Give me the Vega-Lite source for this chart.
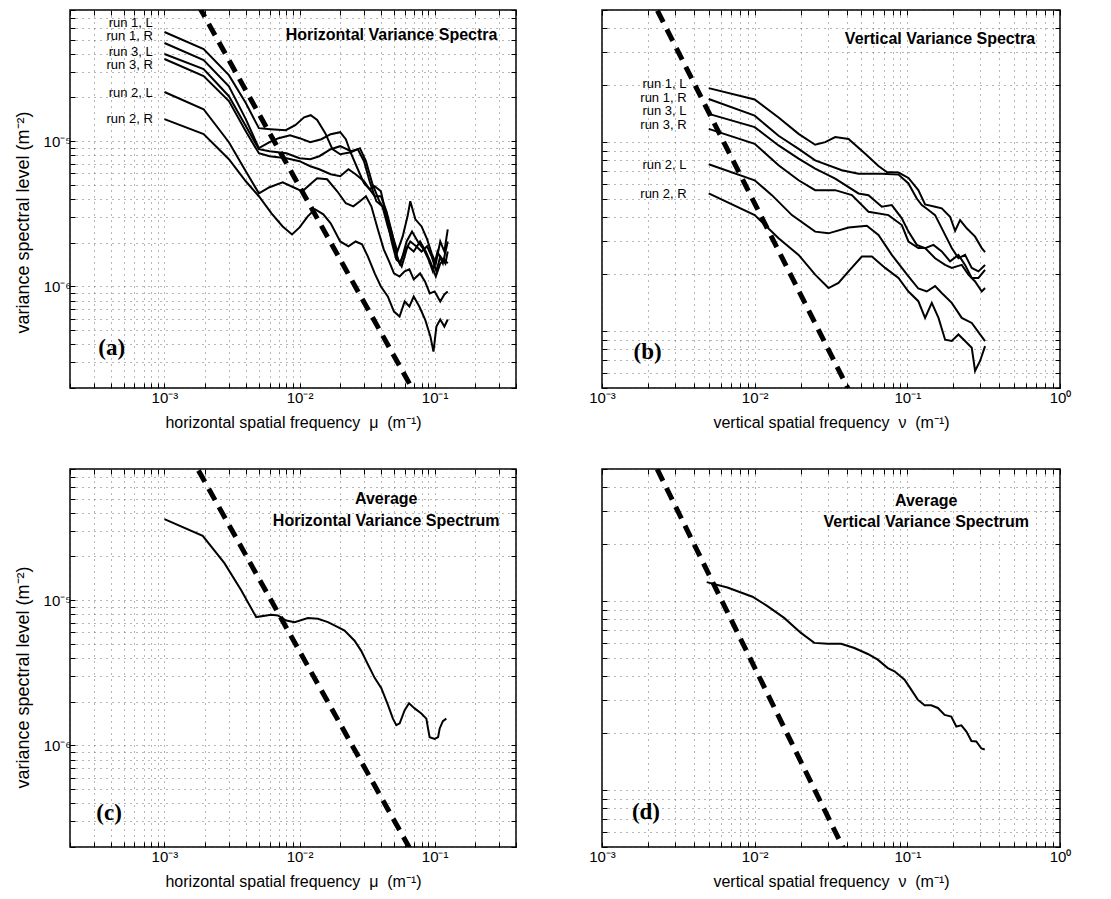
{
  "$schema": "https://vega.github.io/schema/vega-lite/v6.json",
  "background": "white",
  "padding": {"left": 13, "top": 2, "right": 5, "bottom": 5},
  "config": {
    "view": {"stroke": "black", "strokeWidth": 1.5},
    "axis": {
      "labelFont": "Liberation Sans", "titleFont": "Liberation Sans",
      "labelFontSize": 15, "titleFontSize": 16, "titleFontWeight": "normal",
      "labelColor": "black", "titleColor": "black", "domain": false,
      "tickColor": "black", "tickSize": -5, "tickWidth": 1,
      "gridColor": "#555", "gridDash": [1, 5], "gridWidth": 1, "gridOpacity": 0.85,
      "labelOverlap": false, "labelFlush": false, "labelBound": false
    }
  },
  "datasets": {
    "a": [
      {"run":"1L","f":0.001,"s":5.645e-5},{"run":"1L","f":0.00195,"s":4.31e-5},{"run":"1L","f":0.003,"s":2.85e-5},{"run":"1L","f":0.004,"s":1.83e-5},{"run":"1L","f":0.005,"s":1.23e-5},{"run":"1L","f":0.0061,"s":1.21e-5},{"run":"1L","f":0.0079,"s":1.19e-5},{"run":"1L","f":0.0093,"s":1.29e-5},{"run":"1L","f":0.0108,"s":1.46e-5},{"run":"1L","f":0.0121,"s":1.51e-5},{"run":"1L","f":0.0135,"s":1.40e-5},{"run":"1L","f":0.0155,"s":1.136e-5},{"run":"1L","f":0.0175,"s":8.81e-6},{"run":"1L","f":0.020,"s":8.13e-6},{"run":"1L","f":0.024,"s":8.40e-6},{"run":"1L","f":0.028,"s":8.95e-6},{"run":"1L","f":0.031,"s":7.28e-6},{"run":"1L","f":0.0345,"s":5.13e-6},{"run":"1L","f":0.039,"s":3.86e-6},{"run":"1L","f":0.044,"s":3.19e-6},{"run":"1L","f":0.049,"s":2.21e-6},{"run":"1L","f":0.053,"s":1.74e-6},{"run":"1L","f":0.058,"s":2.21e-6},{"run":"1L","f":0.063,"s":3.04e-6},{"run":"1L","f":0.066,"s":3.86e-6},{"run":"1L","f":0.072,"s":2.90e-6},{"run":"1L","f":0.08,"s":2.59e-6},{"run":"1L","f":0.088,"s":2.11e-6},{"run":"1L","f":0.095,"s":1.69e-6},{"run":"1L","f":0.102,"s":1.44e-6},{"run":"1L","f":0.11,"s":2.04e-6},{"run":"1L","f":0.118,"s":1.74e-6},{"run":"1L","f":0.125,"s":2.47e-6},
      {"run":"1R","f":0.001,"s":4.74e-5},{"run":"1R","f":0.00195,"s":3.62e-5},{"run":"1R","f":0.003,"s":2.39e-5},{"run":"1R","f":0.004,"s":1.42e-5},{"run":"1R","f":0.005,"s":8.95e-6},{"run":"1R","f":0.006,"s":9.84e-6},{"run":"1R","f":0.007,"s":1.049e-5},{"run":"1R","f":0.0085,"s":1.10e-5},{"run":"1R","f":0.010,"s":1.049e-5},{"run":"1R","f":0.012,"s":9.84e-6},{"run":"1R","f":0.0145,"s":1.032e-5},{"run":"1R","f":0.017,"s":1.118e-5},{"run":"1R","f":0.020,"s":1.154e-5},{"run":"1R","f":0.022,"s":1.032e-5},{"run":"1R","f":0.024,"s":8.26e-6},{"run":"1R","f":0.027,"s":6.41e-6},{"run":"1R","f":0.030,"s":5.13e-6},{"run":"1R","f":0.033,"s":4.67e-6},{"run":"1R","f":0.036,"s":4.89e-6},{"run":"1R","f":0.040,"s":4.52e-6},{"run":"1R","f":0.044,"s":3.04e-6},{"run":"1R","f":0.048,"s":2.04e-6},{"run":"1R","f":0.052,"s":1.535e-6},{"run":"1R","f":0.056,"s":1.44e-6},{"run":"1R","f":0.062,"s":2.04e-6},{"run":"1R","f":0.068,"s":2.39e-6},{"run":"1R","f":0.075,"s":2.04e-6},{"run":"1R","f":0.083,"s":1.80e-6},{"run":"1R","f":0.09,"s":1.535e-6},{"run":"1R","f":0.097,"s":1.27e-6},{"run":"1R","f":0.105,"s":1.74e-6},{"run":"1R","f":0.115,"s":1.44e-6},{"run":"1R","f":0.125,"s":2.04e-6},
      {"run":"3L","f":0.001,"s":3.98e-5},{"run":"3L","f":0.00195,"s":3.14e-5},{"run":"3L","f":0.003,"s":2.04e-5},{"run":"3L","f":0.004,"s":1.27e-5},{"run":"3L","f":0.005,"s":8.81e-6},{"run":"3L","f":0.006,"s":8.53e-6},{"run":"3L","f":0.008,"s":8.26e-6},{"run":"3L","f":0.010,"s":7.63e-6},{"run":"3L","f":0.012,"s":7.51e-6},{"run":"3L","f":0.014,"s":7.88e-6},{"run":"3L","f":0.017,"s":8.81e-6},{"run":"3L","f":0.020,"s":9.24e-6},{"run":"3L","f":0.024,"s":8.53e-6},{"run":"3L","f":0.027,"s":8.81e-6},{"run":"3L","f":0.030,"s":7.28e-6},{"run":"3L","f":0.033,"s":5.30e-6},{"run":"3L","f":0.037,"s":3.86e-6},{"run":"3L","f":0.041,"s":3.56e-6},{"run":"3L","f":0.045,"s":2.59e-6},{"run":"3L","f":0.05,"s":1.89e-6},{"run":"3L","f":0.055,"s":1.44e-6},{"run":"3L","f":0.06,"s":1.74e-6},{"run":"3L","f":0.066,"s":2.04e-6},{"run":"3L","f":0.073,"s":1.89e-6},{"run":"3L","f":0.08,"s":1.74e-6},{"run":"3L","f":0.088,"s":1.89e-6},{"run":"3L","f":0.095,"s":1.61e-6},{"run":"3L","f":0.103,"s":1.27e-6},{"run":"3L","f":0.11,"s":1.61e-6},{"run":"3L","f":0.12,"s":1.44e-6},{"run":"3L","f":0.125,"s":1.74e-6},
      {"run":"3R","f":0.001,"s":3.68e-5},{"run":"3R","f":0.00195,"s":2.81e-5},{"run":"3R","f":0.003,"s":1.89e-5},{"run":"3R","f":0.004,"s":1.17e-5},{"run":"3R","f":0.005,"s":8.26e-6},{"run":"3R","f":0.006,"s":7.88e-6},{"run":"3R","f":0.008,"s":7.63e-6},{"run":"3R","f":0.010,"s":7.28e-6},{"run":"3R","f":0.012,"s":6.72e-6},{"run":"3R","f":0.014,"s":6.41e-6},{"run":"3R","f":0.017,"s":5.92e-6},{"run":"3R","f":0.020,"s":5.74e-6},{"run":"3R","f":0.023,"s":6.41e-6},{"run":"3R","f":0.026,"s":5.92e-6},{"run":"3R","f":0.030,"s":5.30e-6},{"run":"3R","f":0.033,"s":4.67e-6},{"run":"3R","f":0.036,"s":4.18e-6},{"run":"3R","f":0.040,"s":4.18e-6},{"run":"3R","f":0.044,"s":3.29e-6},{"run":"3R","f":0.049,"s":2.21e-6},{"run":"3R","f":0.053,"s":1.535e-6},{"run":"3R","f":0.057,"s":1.37e-6},{"run":"3R","f":0.063,"s":1.89e-6},{"run":"3R","f":0.07,"s":1.74e-6},{"run":"3R","f":0.078,"s":2.04e-6},{"run":"3R","f":0.086,"s":1.74e-6},{"run":"3R","f":0.094,"s":1.44e-6},{"run":"3R","f":0.102,"s":1.17e-6},{"run":"3R","f":0.11,"s":1.44e-6},{"run":"3R","f":0.118,"s":1.535e-6},{"run":"3R","f":0.125,"s":1.44e-6},
      {"run":"2L","f":0.001,"s":2.18e-5},{"run":"2L","f":0.00195,"s":1.66e-5},{"run":"2L","f":0.003,"s":9.84e-6},{"run":"2L","f":0.004,"s":6.21e-6},{"run":"2L","f":0.005,"s":4.38e-6},{"run":"2L","f":0.006,"s":4.82e-6},{"run":"2L","f":0.0075,"s":5.21e-6},{"run":"2L","f":0.009,"s":4.82e-6},{"run":"2L","f":0.0105,"s":4.52e-6},{"run":"2L","f":0.012,"s":5.05e-6},{"run":"2L","f":0.0135,"s":5.56e-6},{"run":"2L","f":0.016,"s":5.47e-6},{"run":"2L","f":0.019,"s":4.52e-6},{"run":"2L","f":0.022,"s":3.74e-6},{"run":"2L","f":0.025,"s":3.56e-6},{"run":"2L","f":0.028,"s":3.86e-6},{"run":"2L","f":0.031,"s":4.18e-6},{"run":"2L","f":0.034,"s":3.56e-6},{"run":"2L","f":0.038,"s":2.47e-6},{"run":"2L","f":0.042,"s":1.80e-6},{"run":"2L","f":0.046,"s":1.49e-6},{"run":"2L","f":0.05,"s":1.23e-6},{"run":"2L","f":0.055,"s":1.17e-6},{"run":"2L","f":0.06,"s":1.27e-6},{"run":"2L","f":0.065,"s":1.31e-6},{"run":"2L","f":0.07,"s":1.12e-6},{"run":"2L","f":0.078,"s":1.23e-6},{"run":"2L","f":0.085,"s":1.08e-6},{"run":"2L","f":0.092,"s":8.95e-7},{"run":"2L","f":0.1,"s":9.24e-7},{"run":"2L","f":0.11,"s":7.88e-7},{"run":"2L","f":0.118,"s":8.81e-7},{"run":"2L","f":0.125,"s":9.24e-7},
      {"run":"2R","f":0.001,"s":1.42e-5},{"run":"2R","f":0.00195,"s":1.118e-5},{"run":"2R","f":0.003,"s":7.51e-6},{"run":"2R","f":0.004,"s":5.30e-6},{"run":"2R","f":0.005,"s":4.18e-6},{"run":"2R","f":0.0062,"s":3.19e-6},{"run":"2R","f":0.0075,"s":2.59e-6},{"run":"2R","f":0.0088,"s":2.28e-6},{"run":"2R","f":0.010,"s":2.55e-6},{"run":"2R","f":0.0115,"s":3.04e-6},{"run":"2R","f":0.013,"s":3.40e-6},{"run":"2R","f":0.015,"s":3.14e-6},{"run":"2R","f":0.017,"s":2.72e-6},{"run":"2R","f":0.020,"s":2.04e-6},{"run":"2R","f":0.023,"s":1.89e-6},{"run":"2R","f":0.026,"s":2.04e-6},{"run":"2R","f":0.029,"s":1.95e-6},{"run":"2R","f":0.032,"s":1.61e-6},{"run":"2R","f":0.036,"s":1.23e-6},{"run":"2R","f":0.04,"s":1.0e-6},{"run":"2R","f":0.045,"s":8.53e-7},{"run":"2R","f":0.05,"s":6.72e-7},{"run":"2R","f":0.055,"s":6.21e-7},{"run":"2R","f":0.06,"s":7.88e-7},{"run":"2R","f":0.065,"s":7.28e-7},{"run":"2R","f":0.07,"s":8.53e-7},{"run":"2R","f":0.077,"s":7.28e-7},{"run":"2R","f":0.085,"s":5.92e-7},{"run":"2R","f":0.093,"s":4.52e-7},{"run":"2R","f":0.098,"s":3.56e-7},{"run":"2R","f":0.103,"s":5.30e-7},{"run":"2R","f":0.11,"s":5.92e-7},{"run":"2R","f":0.118,"s":5.30e-7},{"run":"2R","f":0.125,"s":5.92e-7}
    ],
    "b": [
      {"run":"1L","f":0.005,"s":1.93e-5},{"run":"1L","f":0.01,"s":1.68e-5},{"run":"1L","f":0.01434,"s":1.35e-5},{"run":"1L","f":0.0194,"s":1.106e-5},{"run":"1L","f":0.0249,"s":9.68e-6},{"run":"1L","f":0.029,"s":1.0e-5},{"run":"1L","f":0.0337,"s":1.063e-5},{"run":"1L","f":0.0412,"s":1.04e-5},{"run":"1L","f":0.053,"s":8.68e-6},{"run":"1L","f":0.0647,"s":7.47e-6},{"run":"1L","f":0.0734,"s":6.95e-6},{"run":"1L","f":0.0875,"s":6.9e-6},{"run":"1L","f":0.1017,"s":6.46e-6},{"run":"1L","f":0.118,"s":5.57e-6},{"run":"1L","f":0.1307,"s":4.68e-6},{"run":"1L","f":0.152,"s":4.55e-6},{"run":"1L","f":0.168,"s":4.46e-6},{"run":"1L","f":0.1906,"s":4.03e-6},{"run":"1L","f":0.2055,"s":3.39e-6},{"run":"1L","f":0.2216,"s":3.87e-6},{"run":"1L","f":0.2449,"s":3.5e-6},{"run":"1L","f":0.2778,"s":3.16e-6},{"run":"1L","f":0.3072,"s":2.75e-6},{"run":"1L","f":0.323,"s":2.62e-6},
      {"run":"1R","f":0.005,"s":1.69e-5},{"run":"1R","f":0.01,"s":1.38e-5},{"run":"1R","f":0.01434,"s":1.08e-5},{"run":"1R","f":0.0194,"s":9.2e-6},{"run":"1R","f":0.0249,"s":8.0e-6},{"run":"1R","f":0.03724,"s":7.1e-6},{"run":"1R","f":0.04787,"s":6.81e-6},{"run":"1R","f":0.06806,"s":6.81e-6},{"run":"1R","f":0.0875,"s":6.73e-6},{"run":"1R","f":0.1017,"s":6.04e-6},{"run":"1R","f":0.1153,"s":5.03e-6},{"run":"1R","f":0.1244,"s":4.64e-6},{"run":"1R","f":0.1375,"s":4.37e-6},{"run":"1R","f":0.152,"s":4.11e-6},{"run":"1R","f":0.1768,"s":3.23e-6},{"run":"1R","f":0.1954,"s":2.75e-6},{"run":"1R","f":0.2161,"s":2.43e-6},{"run":"1R","f":0.2389,"s":2.53e-6},{"run":"1R","f":0.2642,"s":2.16e-6},{"run":"1R","f":0.2921,"s":2.07e-6},{"run":"1R","f":0.323,"s":2.24e-6},
      {"run":"3L","f":0.005,"s":1.41e-5},{"run":"3L","f":0.01,"s":1.2e-5},{"run":"3L","f":0.01434,"s":9.6e-6},{"run":"3L","f":0.0194,"s":8.17e-6},{"run":"3L","f":0.0249,"s":7.24e-6},{"run":"3L","f":0.0337,"s":6.41e-6},{"run":"3L","f":0.04787,"s":5.35e-6},{"run":"3L","f":0.05566,"s":5.24e-6},{"run":"3L","f":0.06806,"s":4.55e-6},{"run":"3L","f":0.0791,"s":4.64e-6},{"run":"3L","f":0.092,"s":3.95e-6},{"run":"3L","f":0.1017,"s":3.36e-6},{"run":"3L","f":0.1153,"s":2.86e-6},{"run":"3L","f":0.1307,"s":2.75e-6},{"run":"3L","f":0.1483,"s":2.86e-6},{"run":"3L","f":0.168,"s":2.64e-6},{"run":"3L","f":0.1906,"s":2.34e-6},{"run":"3L","f":0.2161,"s":2.53e-6},{"run":"3L","f":0.2389,"s":2.24e-6},{"run":"3L","f":0.2642,"s":1.91e-6},{"run":"3L","f":0.2921,"s":1.91e-6},{"run":"3L","f":0.323,"s":2.11e-6},
      {"run":"3R","f":0.005,"s":1.175e-5},{"run":"3R","f":0.01,"s":9.8e-6},{"run":"3R","f":0.01434,"s":7.54e-6},{"run":"3R","f":0.0194,"s":6.28e-6},{"run":"3R","f":0.0249,"s":5.57e-6},{"run":"3R","f":0.0337,"s":5.57e-6},{"run":"3R","f":0.04331,"s":5.24e-6},{"run":"3R","f":0.05566,"s":4.28e-6},{"run":"3R","f":0.07525,"s":4.11e-6},{"run":"3R","f":0.092,"s":3.64e-6},{"run":"3R","f":0.1017,"s":2.98e-6},{"run":"3R","f":0.118,"s":2.75e-6},{"run":"3R","f":0.1307,"s":2.75e-6},{"run":"3R","f":0.152,"s":2.43e-6},{"run":"3R","f":0.1768,"s":2.24e-6},{"run":"3R","f":0.1954,"s":2.16e-6},{"run":"3R","f":0.2272,"s":2.24e-6},{"run":"3R","f":0.2512,"s":1.99e-6},{"run":"3R","f":0.2778,"s":1.83e-6},{"run":"3R","f":0.3072,"s":1.62e-6},{"run":"3R","f":0.323,"s":1.69e-6},
      {"run":"2L","f":0.005,"s":7.63e-6},{"run":"2L","f":0.01,"s":6.28e-6},{"run":"2L","f":0.01297,"s":5.24e-6},{"run":"2L","f":0.01753,"s":4.11e-6},{"run":"2L","f":0.0249,"s":3.36e-6},{"run":"2L","f":0.03046,"s":3.29e-6},{"run":"2L","f":0.0412,"s":3.53e-6},{"run":"2L","f":0.05428,"s":3.61e-6},{"run":"2L","f":0.0647,"s":3.23e-6},{"run":"2L","f":0.0791,"s":2.53e-6},{"run":"2L","f":0.1017,"s":1.95e-6},{"run":"2L","f":0.118,"s":1.68e-6},{"run":"2L","f":0.134,"s":1.62e-6},{"run":"2L","f":0.152,"s":1.73e-6},{"run":"2L","f":0.168,"s":1.59e-6},{"run":"2L","f":0.1954,"s":1.41e-6},{"run":"2L","f":0.2272,"s":1.175e-6},{"run":"2L","f":0.2642,"s":1.105e-6},{"run":"2L","f":0.2995,"s":9.6e-7},{"run":"2L","f":0.323,"s":8.86e-7},
      {"run":"2R","f":0.005,"s":5.35e-6},{"run":"2R","f":0.01,"s":4.11e-6},{"run":"2R","f":0.01434,"s":3.1e-6},{"run":"2R","f":0.0194,"s":2.53e-6},{"run":"2R","f":0.0249,"s":1.99e-6},{"run":"2R","f":0.03046,"s":1.69e-6},{"run":"2R","f":0.0354,"s":1.8e-6},{"run":"2R","f":0.0412,"s":2.07e-6},{"run":"2R","f":0.05035,"s":2.48e-6},{"run":"2R","f":0.05855,"s":2.48e-6},{"run":"2R","f":0.07157,"s":2.16e-6},{"run":"2R","f":0.0875,"s":1.91e-6},{"run":"2R","f":0.1017,"s":1.62e-6},{"run":"2R","f":0.118,"s":1.44e-6},{"run":"2R","f":0.1307,"s":1.175e-6},{"run":"2R","f":0.1446,"s":1.41e-6},{"run":"2R","f":0.16,"s":1.175e-6},{"run":"2R","f":0.1768,"s":9.0e-7},{"run":"2R","f":0.1954,"s":8.86e-7},{"run":"2R","f":0.2161,"s":9.6e-7},{"run":"2R","f":0.2389,"s":8.86e-7},{"run":"2R","f":0.2642,"s":8.17e-7},{"run":"2R","f":0.2778,"s":6.16e-7},{"run":"2R","f":0.2995,"s":6.95e-7},{"run":"2R","f":0.323,"s":8.33e-7}
    ],
    "c": [
      {"f":0.001,"s":3.61e-5},{"f":0.00192,"s":2.77e-5},{"f":0.00278,"s":1.80e-5},{"f":0.0037,"s":1.17e-5},{"f":0.00478,"s":7.65e-6},{"f":0.00616,"s":7.94e-6},{"f":0.00691,"s":7.86e-6},{"f":0.00797,"s":7.25e-6},{"f":0.00919,"s":7.06e-6},{"f":0.01153,"s":7.53e-6},{"f":0.01368,"s":7.45e-6},{"f":0.01622,"s":7.06e-6},{"f":0.01923,"s":6.52e-6},{"f":0.02154,"s":6.18e-6},{"f":0.02553,"s":5.26e-6},{"f":0.02861,"s":4.48e-6},{"f":0.03208,"s":3.61e-6},{"f":0.03596,"s":2.92e-6},{"f":0.0403,"s":2.48e-6},{"f":0.0451,"s":1.90e-6},{"f":0.0491,"s":1.53e-6},{"f":0.052,"s":1.38e-6},{"f":0.0551,"s":1.42e-6},{"f":0.06,"s":1.75e-6},{"f":0.0646,"s":1.95e-6},{"f":0.0711,"s":1.80e-6},{"f":0.0797,"s":1.66e-6},{"f":0.0868,"s":1.53e-6},{"f":0.0893,"s":1.31e-6},{"f":0.0918,"s":1.14e-6},{"f":0.1,"s":1.11e-6},{"f":0.106,"s":1.14e-6},{"f":0.109,"s":1.31e-6},{"f":0.115,"s":1.47e-6},{"f":0.122,"s":1.53e-6}
    ],
    "d": [
      {"f":0.00485,"s":1.26e-5},{"f":0.00663,"s":1.18e-5},{"f":0.00967,"s":1.055e-5},{"f":0.01213,"s":9.41e-6},{"f":0.0156,"s":8.15e-6},{"f":0.0201,"s":6.79e-6},{"f":0.02456,"s":6.01e-6},{"f":0.03006,"s":5.94e-6},{"f":0.0368,"s":5.94e-6},{"f":0.045,"s":5.65e-6},{"f":0.0551,"s":5.25e-6},{"f":0.064,"s":4.9e-6},{"f":0.0745,"s":4.42e-6},{"f":0.0824,"s":4.25e-6},{"f":0.0959,"s":3.84e-6},{"f":0.106,"s":3.4e-6},{"f":0.117,"s":3.01e-6},{"f":0.1297,"s":2.81e-6},{"f":0.1434,"s":2.81e-6},{"f":0.1585,"s":2.72e-6},{"f":0.1755,"s":2.5e-6},{"f":0.194,"s":2.45e-6},{"f":0.2094,"s":2.17e-6},{"f":0.226,"s":2.2e-6},{"f":0.2437,"s":2.04e-6},{"f":0.263,"s":1.82e-6},{"f":0.283,"s":1.81e-6},{"f":0.3055,"s":1.66e-6},{"f":0.3215,"s":1.64e-6}
    ],
    "k": [
      {"panel":"a","f":0.0015,"s":1.148e-4},{"panel":"a","f":0.08,"s":1.52e-7},
      {"panel":"b","f":0.002,"s":6.24e-5},{"panel":"b","f":0.05,"s":3.6e-7},
      {"panel":"c","f":0.0015,"s":1.045e-4},{"panel":"c","f":0.08,"s":1.40e-7},
      {"panel":"d","f":0.002,"s":6.28e-5},{"panel":"d","f":0.05,"s":3.15e-7}
    ],
    "notes": [
      {"panel":"a","kind":"run","f":0.00082,"s":6.52e-5,"label":"run 1, L"},
      {"panel":"a","kind":"run","f":0.00082,"s":5.26e-5,"label":"run 1, R"},
      {"panel":"a","kind":"run","f":0.00082,"s":4.11e-5,"label":"run 3, L"},
      {"panel":"a","kind":"run","f":0.00082,"s":3.32e-5,"label":"run 3, R"},
      {"panel":"a","kind":"run","f":0.00082,"s":2.14e-5,"label":"run 2, L"},
      {"panel":"a","kind":"run","f":0.00082,"s":1.42e-5,"label":"run 2, R"},
      {"panel":"a","kind":"title","f":0.048,"s":5.38e-5,"label":"Horizontal Variance Spectra"},
      {"panel":"a","kind":"letter","f":0.000324,"s":3.8e-7,"label":"(a)"},
      {"panel":"b","kind":"run","f":0.00358,"s":2.02e-5,"label":"run 1, L"},
      {"panel":"b","kind":"run","f":0.00358,"s":1.71e-5,"label":"run 1, R"},
      {"panel":"b","kind":"run","f":0.00358,"s":1.46e-5,"label":"run 3, L"},
      {"panel":"b","kind":"run","f":0.00358,"s":1.23e-5,"label":"run 3, R"},
      {"panel":"b","kind":"run","f":0.00358,"s":7.57e-6,"label":"run 2, L"},
      {"panel":"b","kind":"run","f":0.00358,"s":5.33e-6,"label":"run 2, R"},
      {"panel":"b","kind":"title","f":0.1637,"s":3.52e-5,"label":"Vertical Variance Spectra"},
      {"panel":"b","kind":"letter","f":0.00161,"s":7.76e-7,"label":"(b)"},
      {"panel":"c","kind":"title","f":0.0438,"s":4.99e-5,"label":"Average"},
      {"panel":"c","kind":"title","f":0.0438,"s":3.52e-5,"label":"Horizontal Variance Spectrum"},
      {"panel":"c","kind":"letter","f":0.000313,"s":3.43e-7,"label":"(c)"},
      {"panel":"d","kind":"title","f":0.133,"s":3.4e-5,"label":"Average"},
      {"panel":"d","kind":"title","f":0.133,"s":2.61e-5,"label":"Vertical Variance Spectrum"},
      {"panel":"d","kind":"letter","f":0.00157,"s":7.67e-7,"label":"(d)"}
    ]
  },
  "columns": 2,
  "spacing": {"row": 81, "column": 86},
  "bounds": "flush",
  "concat": [
    {
      "width": 446, "height": 378,
      "resolve": {"axis": {"x": "independent", "y": "independent"}},
      "layer": [
        {
          "data": {"name": "a"},
          "mark": {"type": "line", "color": "black", "strokeWidth": 2, "clip": true},
          "encoding": {
            "x": {"field": "f", "type": "quantitative", "scale": {"type": "log", "domain": [0.0002, 0.4], "nice": false},
              "axis": {"orient": "bottom", "values": [0.0002,0.0003,0.0004,0.0005,0.0006,0.0007,0.0008,0.0009,0.001,0.002,0.003,0.004,0.005,0.006,0.007,0.008,0.009,0.01,0.02,0.03,0.04,0.05,0.06,0.07,0.08,0.09,0.1,0.2,0.3,0.4],
                "labelExpr": "abs(log(datum.value)/LN10-round(log(datum.value)/LN10))<0.001 ? '10'+(round(log(datum.value)/LN10)<0?'⁻':'')+['⁰','¹','²','³','⁴','⁵','⁶','⁷','⁸','⁹'][abs(round(log(datum.value)/LN10))] : ''",
                "title": "horizontal spatial frequency\u00a0\u00a0μ\u00a0\u00a0(m⁻¹)", "grid": true, "labelPadding": 7, "titlePadding": 9}},
            "y": {"field": "s", "type": "quantitative", "scale": {"type": "log", "domain": [2e-7, 8e-5], "nice": false},
              "axis": {"orient": "left", "values": [2e-7,3e-7,4e-7,5e-7,6e-7,7e-7,8e-7,9e-7,1e-6,2e-6,3e-6,4e-6,5e-6,6e-6,7e-6,8e-6,9e-6,1e-5,2e-5,3e-5,4e-5,5e-5,6e-5,7e-5,8e-5],
                "labelExpr": "abs(log(datum.value)/LN10-round(log(datum.value)/LN10))<0.001 ? '10'+(round(log(datum.value)/LN10)<0?'⁻':'')+['⁰','¹','²','³','⁴','⁵','⁶','⁷','⁸','⁹'][abs(round(log(datum.value)/LN10))] : ''",
                "title": "variance spectral level (m⁻²)", "titleFontSize": 18, "titleY": 212, "grid": true, "labelPadding": 4, "titlePadding": 11}},
            "detail": {"field": "run"}
          }
        },
        {
          "data": {"name": "k"},
          "transform": [{"filter": "datum.panel == 'a'"}],
          "mark": {"type": "line", "color": "black", "strokeWidth": 5, "strokeDash": [13, 8], "clip": true},
          "encoding": {
            "x": {"field": "f", "type": "quantitative", "axis": {"orient": "top", "values": [0.0002,0.0003,0.0004,0.0005,0.0006,0.0007,0.0008,0.0009,0.001,0.002,0.003,0.004,0.005,0.006,0.007,0.008,0.009,0.01,0.02,0.03,0.04,0.05,0.06,0.07,0.08,0.09,0.1,0.2,0.3,0.4], "labels": false, "title": null, "grid": false}},
            "y": {"field": "s", "type": "quantitative", "axis": {"orient": "right", "values": [2e-7,3e-7,4e-7,5e-7,6e-7,7e-7,8e-7,9e-7,1e-6,2e-6,3e-6,4e-6,5e-6,6e-6,7e-6,8e-6,9e-6,1e-5,2e-5,3e-5,4e-5,5e-5,6e-5,7e-5,8e-5], "labels": false, "title": null, "grid": false}}
          }
        },
        {
          "data": {"name": "notes"},
          "transform": [{"filter": "datum.panel == 'a' && datum.kind == 'run'"}],
          "mark": {"type": "text", "align": "right", "baseline": "middle", "font": "Liberation Sans", "fontSize": 13, "color": "black"},
          "encoding": {"x": {"field": "f", "type": "quantitative", "axis": null}, "y": {"field": "s", "type": "quantitative", "axis": null}, "text": {"field": "label"}}
        },
        {
          "data": {"name": "notes"},
          "transform": [{"filter": "datum.panel == 'a' && datum.kind == 'title'"}],
          "mark": {"type": "text", "align": "center", "baseline": "middle", "font": "Liberation Sans", "fontWeight": "bold", "fontSize": 16, "color": "black"},
          "encoding": {"x": {"field": "f", "type": "quantitative", "axis": null}, "y": {"field": "s", "type": "quantitative", "axis": null}, "text": {"field": "label"}}
        },
        {
          "data": {"name": "notes"},
          "transform": [{"filter": "datum.panel == 'a' && datum.kind == 'letter'"}],
          "mark": {"type": "text", "align": "left", "baseline": "middle", "font": "Liberation Serif", "fontWeight": "bold", "fontSize": 23, "color": "black"},
          "encoding": {"x": {"field": "f", "type": "quantitative", "axis": null}, "y": {"field": "s", "type": "quantitative", "axis": null}, "text": {"field": "label"}}
        }
      ]
    },
    {
      "width": 458, "height": 378,
      "resolve": {"axis": {"x": "independent", "y": "independent"}},
      "layer": [
        {
          "data": {"name": "b"},
          "mark": {"type": "line", "color": "black", "strokeWidth": 2, "clip": true},
          "encoding": {
            "x": {"field": "f", "type": "quantitative", "scale": {"type": "log", "domain": [0.001, 1], "nice": false},
              "axis": {"orient": "bottom", "values": [0.001,0.002,0.003,0.004,0.005,0.006,0.007,0.008,0.009,0.01,0.02,0.03,0.04,0.05,0.06,0.07,0.08,0.09,0.1,0.2,0.3,0.4,0.5,0.6,0.7,0.8,0.9,1],
                "labelExpr": "abs(log(datum.value)/LN10-round(log(datum.value)/LN10))<0.001 ? '10'+(round(log(datum.value)/LN10)<0?'⁻':'')+['⁰','¹','²','³','⁴','⁵','⁶','⁷','⁸','⁹'][abs(round(log(datum.value)/LN10))] : ''",
                "title": "vertical spatial frequency\u00a0\u00a0ν\u00a0\u00a0(m⁻¹)", "grid": true, "labelPadding": 7, "titlePadding": 9}},
            "y": {"field": "s", "type": "quantitative", "scale": {"type": "log", "domain": [5e-7, 5e-5], "nice": false},
              "axis": {"orient": "left", "values": [5e-7,6e-7,7e-7,8e-7,9e-7,1e-6,2e-6,3e-6,4e-6,5e-6,6e-6,7e-6,8e-6,9e-6,1e-5,2e-5,3e-5,4e-5,5e-5], "labels": false, "title": null, "grid": true}},
            "detail": {"field": "run"}
          }
        },
        {
          "data": {"name": "k"},
          "transform": [{"filter": "datum.panel == 'b'"}],
          "mark": {"type": "line", "color": "black", "strokeWidth": 5, "strokeDash": [13, 8], "clip": true},
          "encoding": {
            "x": {"field": "f", "type": "quantitative", "axis": {"orient": "top", "values": [0.001,0.002,0.003,0.004,0.005,0.006,0.007,0.008,0.009,0.01,0.02,0.03,0.04,0.05,0.06,0.07,0.08,0.09,0.1,0.2,0.3,0.4,0.5,0.6,0.7,0.8,0.9,1], "labels": false, "title": null, "grid": false}},
            "y": {"field": "s", "type": "quantitative", "axis": {"orient": "right", "values": [5e-7,6e-7,7e-7,8e-7,9e-7,1e-6,2e-6,3e-6,4e-6,5e-6,6e-6,7e-6,8e-6,9e-6,1e-5,2e-5,3e-5,4e-5,5e-5], "labels": false, "title": null, "grid": false}}
          }
        },
        {
          "data": {"name": "notes"},
          "transform": [{"filter": "datum.panel == 'b' && datum.kind == 'run'"}],
          "mark": {"type": "text", "align": "right", "baseline": "middle", "font": "Liberation Sans", "fontSize": 13, "color": "black"},
          "encoding": {"x": {"field": "f", "type": "quantitative", "axis": null}, "y": {"field": "s", "type": "quantitative", "axis": null}, "text": {"field": "label"}}
        },
        {
          "data": {"name": "notes"},
          "transform": [{"filter": "datum.panel == 'b' && datum.kind == 'title'"}],
          "mark": {"type": "text", "align": "center", "baseline": "middle", "font": "Liberation Sans", "fontWeight": "bold", "fontSize": 16, "color": "black"},
          "encoding": {"x": {"field": "f", "type": "quantitative", "axis": null}, "y": {"field": "s", "type": "quantitative", "axis": null}, "text": {"field": "label"}}
        },
        {
          "data": {"name": "notes"},
          "transform": [{"filter": "datum.panel == 'b' && datum.kind == 'letter'"}],
          "mark": {"type": "text", "align": "left", "baseline": "middle", "font": "Liberation Serif", "fontWeight": "bold", "fontSize": 23, "color": "black"},
          "encoding": {"x": {"field": "f", "type": "quantitative", "axis": null}, "y": {"field": "s", "type": "quantitative", "axis": null}, "text": {"field": "label"}}
        }
      ]
    },
    {
      "width": 446, "height": 378,
      "resolve": {"axis": {"x": "independent", "y": "independent"}},
      "layer": [
        {
          "data": {"name": "c"},
          "mark": {"type": "line", "color": "black", "strokeWidth": 2, "clip": true},
          "encoding": {
            "x": {"field": "f", "type": "quantitative", "scale": {"type": "log", "domain": [0.0002, 0.4], "nice": false},
              "axis": {"orient": "bottom", "values": [0.0002,0.0003,0.0004,0.0005,0.0006,0.0007,0.0008,0.0009,0.001,0.002,0.003,0.004,0.005,0.006,0.007,0.008,0.009,0.01,0.02,0.03,0.04,0.05,0.06,0.07,0.08,0.09,0.1,0.2,0.3,0.4],
                "labelExpr": "abs(log(datum.value)/LN10-round(log(datum.value)/LN10))<0.001 ? '10'+(round(log(datum.value)/LN10)<0?'⁻':'')+['⁰','¹','²','³','⁴','⁵','⁶','⁷','⁸','⁹'][abs(round(log(datum.value)/LN10))] : ''",
                "title": "horizontal spatial frequency\u00a0\u00a0μ\u00a0\u00a0(m⁻¹)", "grid": true, "labelPadding": 7, "titlePadding": 9}},
            "y": {"field": "s", "type": "quantitative", "scale": {"type": "log", "domain": [2e-7, 8e-5], "nice": false},
              "axis": {"orient": "left", "values": [2e-7,3e-7,4e-7,5e-7,6e-7,7e-7,8e-7,9e-7,1e-6,2e-6,3e-6,4e-6,5e-6,6e-6,7e-6,8e-6,9e-6,1e-5,2e-5,3e-5,4e-5,5e-5,6e-5,7e-5,8e-5],
                "labelExpr": "abs(log(datum.value)/LN10-round(log(datum.value)/LN10))<0.001 ? '10'+(round(log(datum.value)/LN10)<0?'⁻':'')+['⁰','¹','²','³','⁴','⁵','⁶','⁷','⁸','⁹'][abs(round(log(datum.value)/LN10))] : ''",
                "title": "variance spectral level (m⁻²)", "titleFontSize": 18, "titleY": 208, "grid": true, "labelPadding": 4, "titlePadding": 11}}
          }
        },
        {
          "data": {"name": "k"},
          "transform": [{"filter": "datum.panel == 'c'"}],
          "mark": {"type": "line", "color": "black", "strokeWidth": 5, "strokeDash": [13, 8], "clip": true},
          "encoding": {
            "x": {"field": "f", "type": "quantitative", "axis": {"orient": "top", "values": [0.0002,0.0003,0.0004,0.0005,0.0006,0.0007,0.0008,0.0009,0.001,0.002,0.003,0.004,0.005,0.006,0.007,0.008,0.009,0.01,0.02,0.03,0.04,0.05,0.06,0.07,0.08,0.09,0.1,0.2,0.3,0.4], "labels": false, "title": null, "grid": false}},
            "y": {"field": "s", "type": "quantitative", "axis": {"orient": "right", "values": [2e-7,3e-7,4e-7,5e-7,6e-7,7e-7,8e-7,9e-7,1e-6,2e-6,3e-6,4e-6,5e-6,6e-6,7e-6,8e-6,9e-6,1e-5,2e-5,3e-5,4e-5,5e-5,6e-5,7e-5,8e-5], "labels": false, "title": null, "grid": false}}
          }
        },
        {
          "data": {"name": "notes"},
          "transform": [{"filter": "datum.panel == 'c' && datum.kind == 'title'"}],
          "mark": {"type": "text", "align": "center", "baseline": "middle", "font": "Liberation Sans", "fontWeight": "bold", "fontSize": 16, "color": "black"},
          "encoding": {"x": {"field": "f", "type": "quantitative", "axis": null}, "y": {"field": "s", "type": "quantitative", "axis": null}, "text": {"field": "label"}}
        },
        {
          "data": {"name": "notes"},
          "transform": [{"filter": "datum.panel == 'c' && datum.kind == 'letter'"}],
          "mark": {"type": "text", "align": "left", "baseline": "middle", "font": "Liberation Serif", "fontWeight": "bold", "fontSize": 23, "color": "black"},
          "encoding": {"x": {"field": "f", "type": "quantitative", "axis": null}, "y": {"field": "s", "type": "quantitative", "axis": null}, "text": {"field": "label"}}
        }
      ]
    },
    {
      "width": 458, "height": 378,
      "resolve": {"axis": {"x": "independent", "y": "independent"}},
      "layer": [
        {
          "data": {"name": "d"},
          "mark": {"type": "line", "color": "black", "strokeWidth": 2, "clip": true},
          "encoding": {
            "x": {"field": "f", "type": "quantitative", "scale": {"type": "log", "domain": [0.001, 1], "nice": false},
              "axis": {"orient": "bottom", "values": [0.001,0.002,0.003,0.004,0.005,0.006,0.007,0.008,0.009,0.01,0.02,0.03,0.04,0.05,0.06,0.07,0.08,0.09,0.1,0.2,0.3,0.4,0.5,0.6,0.7,0.8,0.9,1],
                "labelExpr": "abs(log(datum.value)/LN10-round(log(datum.value)/LN10))<0.001 ? '10'+(round(log(datum.value)/LN10)<0?'⁻':'')+['⁰','¹','²','³','⁴','⁵','⁶','⁷','⁸','⁹'][abs(round(log(datum.value)/LN10))] : ''",
                "title": "vertical spatial frequency\u00a0\u00a0ν\u00a0\u00a0(m⁻¹)", "grid": true, "labelPadding": 7, "titlePadding": 9}},
            "y": {"field": "s", "type": "quantitative", "scale": {"type": "log", "domain": [5e-7, 5e-5], "nice": false},
              "axis": {"orient": "left", "values": [5e-7,6e-7,7e-7,8e-7,9e-7,1e-6,2e-6,3e-6,4e-6,5e-6,6e-6,7e-6,8e-6,9e-6,1e-5,2e-5,3e-5,4e-5,5e-5], "labels": false, "title": null, "grid": true}}
          }
        },
        {
          "data": {"name": "k"},
          "transform": [{"filter": "datum.panel == 'd'"}],
          "mark": {"type": "line", "color": "black", "strokeWidth": 5, "strokeDash": [13, 8], "clip": true},
          "encoding": {
            "x": {"field": "f", "type": "quantitative", "axis": {"orient": "top", "values": [0.001,0.002,0.003,0.004,0.005,0.006,0.007,0.008,0.009,0.01,0.02,0.03,0.04,0.05,0.06,0.07,0.08,0.09,0.1,0.2,0.3,0.4,0.5,0.6,0.7,0.8,0.9,1], "labels": false, "title": null, "grid": false}},
            "y": {"field": "s", "type": "quantitative", "axis": {"orient": "right", "values": [5e-7,6e-7,7e-7,8e-7,9e-7,1e-6,2e-6,3e-6,4e-6,5e-6,6e-6,7e-6,8e-6,9e-6,1e-5,2e-5,3e-5,4e-5,5e-5], "labels": false, "title": null, "grid": false}}
          }
        },
        {
          "data": {"name": "notes"},
          "transform": [{"filter": "datum.panel == 'd' && datum.kind == 'title'"}],
          "mark": {"type": "text", "align": "center", "baseline": "middle", "font": "Liberation Sans", "fontWeight": "bold", "fontSize": 16, "color": "black"},
          "encoding": {"x": {"field": "f", "type": "quantitative", "axis": null}, "y": {"field": "s", "type": "quantitative", "axis": null}, "text": {"field": "label"}}
        },
        {
          "data": {"name": "notes"},
          "transform": [{"filter": "datum.panel == 'd' && datum.kind == 'letter'"}],
          "mark": {"type": "text", "align": "left", "baseline": "middle", "font": "Liberation Serif", "fontWeight": "bold", "fontSize": 23, "color": "black"},
          "encoding": {"x": {"field": "f", "type": "quantitative", "axis": null}, "y": {"field": "s", "type": "quantitative", "axis": null}, "text": {"field": "label"}}
        }
      ]
    }
  ]
}
